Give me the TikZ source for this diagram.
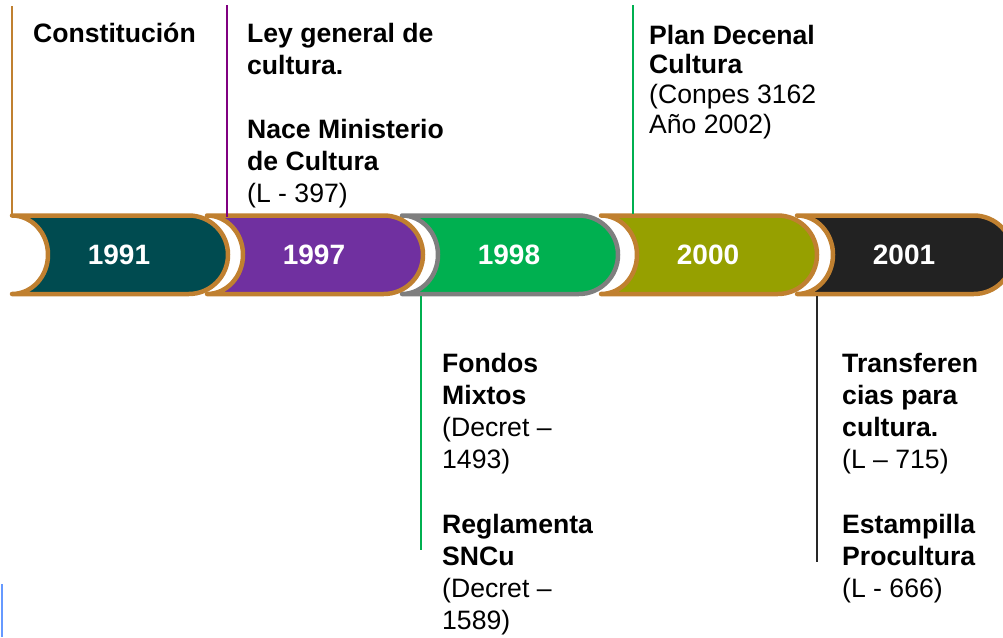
\documentclass[tikz,border=0pt]{standalone}
\usepackage{fontspec}
\setmainfont{Liberation Sans}
\definecolor{segorange}{RGB}{192,128,48}
\definecolor{seggray}{RGB}{127,127,127}
\definecolor{cteal}{RGB}{0,75,80}
\definecolor{cpurple}{RGB}{112,48,160}
\definecolor{cgreen}{RGB}{0,176,80}
\definecolor{colive}{RGB}{150,160,0}
\definecolor{cblack}{RGB}{34,34,34}
\definecolor{lpurple}{RGB}{128,0,128}
\definecolor{ldark}{RGB}{40,40,40}
\definecolor{lblue}{RGB}{102,153,255}
\tikzset{
  seg/.style={line width=4.5pt, line join=round},
  yeartext/.style={text=white, font=\fontsize{28}{32}\selectfont\bfseries, inner sep=0pt, anchor=center},
  lbl/.style={anchor=base west, inner sep=0pt},
  conn/.style={line width=1.6pt},
}
\newcommand\segshape[3]{% x0, fill, stroke
  \path[seg, draw=#3, fill=#2] (#1,-215.5) -- ({#1+176.75},-215.5)
    arc[start angle=90, end angle=-90, radius=39.25] -- (#1,-294)
    arc[start angle=-90, end angle=90, x radius=36, y radius=39.25] -- cycle;
}
\begin{document}
\begin{tikzpicture}[x=1pt,y=1pt]
\useasboundingbox (0,0) rectangle (1003,-637);
% segments, drawn right to left
\segshape{797}{cblack}{segorange}
\node[yeartext] (y2001) at (904,-255) {2001};
\segshape{601}{colive}{segorange}
\node[yeartext] (y2000) at (708,-255) {2000};
\segshape{402}{cgreen}{seggray}
\node[yeartext] (y1998) at (509,-255) {1998};
\segshape{207}{cpurple}{segorange}
\node[yeartext] (y1997) at (314,-255) {1997};
\segshape{12}{cteal}{segorange}
\node[yeartext] (y1991) at (119,-255) {1991};
% connector end points
\coordinate (a1991) at (12,-6);   \coordinate (b1991) at (12,-215.5);
\coordinate (a1997) at (227,-5);  \coordinate (b1997) at (227,-217);
\coordinate (a2000) at (633,-5);  \coordinate (b2000) at (633,-214);
\coordinate (a1998) at (421,-296);\coordinate (b1998) at (421,-550);
\coordinate (a2001) at (817,-296);\coordinate (b2001) at (817,-562);
\coordinate (a0) at (2,-584);     \coordinate (b0) at (2,-637);
\draw[conn, segorange] (a1991) -- (b1991);
\draw[conn, lpurple] (a1997) -- (b1997);
\draw[conn, cgreen] (a2000) -- (b2000);
\draw[conn, cgreen] (a1998) -- (b1998);
\draw[conn, ldark] (a2001) -- (b2001);
\draw[conn, lblue] (a0) -- (b0);
% labels
\node[lbl] (t1991) at (33,-42) {\fontsize{26.6}{32}\selectfont\vtop{\hbox{\bfseries Constitución}}};
\node[lbl] (t1997) at (247,-42) {\fontsize{26.6}{32}\selectfont\vtop{%
  \hbox{\bfseries Ley general de}\hbox{\bfseries cultura.}\hbox{}%
  \hbox{\bfseries Nace Ministerio}\hbox{\bfseries de Cultura}\hbox{(L - 397)}}};
\node[lbl] (t2000) at (649,-44) {\fontsize{26.6}{29.7}\selectfont\vtop{%
  \hbox{\bfseries Plan Decenal}\hbox{\bfseries Cultura}%
  \hbox{(Conpes 3162}\hbox{Año 2002)}}};
\node[lbl] (t1998) at (442,-372) {\fontsize{26.6}{32.2}\selectfont\vtop{%
  \hbox{\bfseries Fondos}\hbox{\bfseries Mixtos}\hbox{(Decret –}\hbox{1493)}\hbox{}%
  \hbox{\bfseries Reglamenta}\hbox{\bfseries SNCu}\hbox{(Decret –}\hbox{1589)}}};
\node[lbl] (t2001) at (842,-372) {\fontsize{26.6}{32.2}\selectfont\vtop{%
  \hbox{\bfseries Transferen}\hbox{\bfseries cias para}\hbox{\bfseries cultura.}\hbox{(L – 715)}\hbox{}%
  \hbox{\bfseries Estampilla}\hbox{\bfseries Procultura}\hbox{(L - 666)}}};
\end{tikzpicture}
\end{document}
